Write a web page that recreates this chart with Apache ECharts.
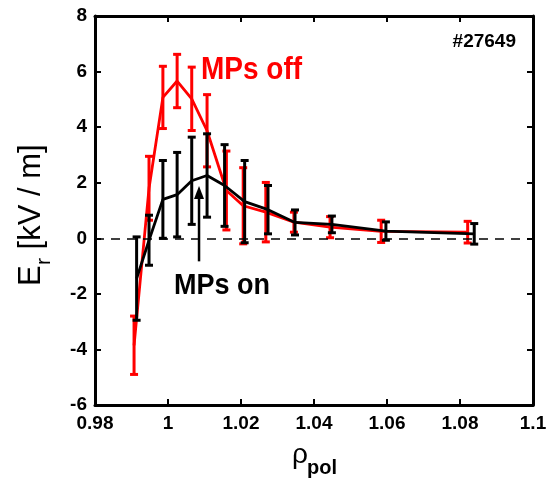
<!DOCTYPE html>
<html>
<head>
<meta charset="utf-8">
<script src="https://cdn.jsdelivr.net/npm/echarts@6/dist/echarts.min.js"></script>
<style>
  html, body { margin: 0; padding: 0; background: #fff; }
  #chart { width: 550px; height: 484px; }
</style>
</head>
<body>
<div id="chart"></div>
<script>
// MPs off (red)
var rhoOff = [0.9907, 0.9948, 0.9986, 1.0025, 1.0065, 1.0107, 1.0160, 1.0206, 1.0268, 1.0345, 1.0444, 1.0584, 1.0821];
var erOff  = [-3.85, 1.80, 5.07, 5.66, 5.02, 3.87, 1.72, 1.17, 0.94, 0.58, 0.40, 0.25, 0.22];
var errOff = [1.05, 1.15, 1.12, 0.96, 1.14, 1.30, 1.42, 1.37, 1.07, 0.36, 0.38, 0.40, 0.39];
// MPs on (black)
var rhoOn = [0.9914, 0.9948, 0.9986, 1.0025, 1.0065, 1.0107, 1.0155, 1.0210, 1.0274, 1.0348, 1.0449, 1.0597, 1.0839];
var erOn  = [-1.45, -0.07, 1.40, 1.57, 2.07, 2.26, 1.90, 1.32, 1.03, 0.57, 0.50, 0.26, 0.16];
var errOn = [1.50, 0.90, 1.40, 1.52, 1.57, 1.50, 1.47, 1.48, 0.87, 0.45, 0.30, 0.33, 0.37];
// arrow pointing at the MPs on curve
var arrowRho = [1.0085];
var arrowEr = [-0.83, 1.88];

var xTicks = [0.98, 1.1, 0.02];
var yTicks = [-6, 8, 2];

var FONT = '"Liberation Sans", Arial, sans-serif';

function zip(a, b, c) {
    var out = [];
    for (var i = 0; i < a.length; i++) out.push(c ? [a[i], b[i], c[i]] : [a[i], b[i]]);
    return out;
}

function errBars(color) {
    return function (params, api) {
        var x = api.value(0), y = api.value(1), e = api.value(2);
        var lo = api.coord([x, y - e]);
        var hi = api.coord([x, y + e]);
        var w = 4;
        var st = { stroke: color, lineWidth: 3 };
        return {
            type: 'group',
            children: [
                { type: 'line', shape: { x1: lo[0], y1: lo[1], x2: hi[0], y2: hi[1] }, style: st },
                { type: 'line', shape: { x1: lo[0] - w, y1: lo[1], x2: lo[0] + w, y2: lo[1] }, style: st },
                { type: 'line', shape: { x1: hi[0] - w, y1: hi[1], x2: hi[0] + w, y2: hi[1] }, style: st }
            ]
        };
    };
}

function axisX(pos, labels) {
    return {
        type: 'value', position: pos, min: xTicks[0], max: xTicks[1], interval: xTicks[2],
        axisLine: { show: true, onZero: false, lineStyle: { color: '#000', width: 3 } },
        axisTick: { show: true, inside: true, length: 6, lineStyle: { color: '#000', width: 2 } },
        axisLabel: { show: labels, color: '#000', fontFamily: FONT, fontWeight: 'bold', fontSize: 19, margin: 9 },
        splitLine: { show: false }
    };
}
function axisY(pos, labels) {
    return {
        type: 'value', position: pos, min: yTicks[0], max: yTicks[1], interval: yTicks[2],
        axisLine: { show: true, onZero: false, lineStyle: { color: '#000', width: 3 } },
        axisTick: { show: true, inside: true, length: 6, lineStyle: { color: '#000', width: 2 } },
        axisLabel: { show: labels, color: '#000', fontFamily: FONT, fontWeight: 'bold', fontSize: 19, margin: 8 },
        splitLine: { show: false }
    };
}

var chart = echarts.init(document.getElementById('chart'), null, { renderer: 'canvas' });

var option = {
    animation: false,
    backgroundColor: '#fff',
    grid: { left: 95, right: 17, top: 16, bottom: 79 },
    xAxis: [axisX('bottom', true), axisX('top', false)],
    yAxis: [axisY('left', true), axisY('right', false)],
    series: [
        {
            name: 'MPs off', type: 'line', data: zip(rhoOff, erOff), symbol: 'none', z: 2,
            lineStyle: { color: '#ff0000', width: 2.8 },
            markLine: {
                silent: true, symbol: 'none', label: { show: false },
                lineStyle: { color: '#000', width: 1.5, type: [9, 7] },
                data: [{ yAxis: 0 }]
            }
        },
        {
            name: 'MPs off err', type: 'custom', data: zip(rhoOff, erOff, errOff), z: 3,
            renderItem: errBars('#ff0000')
        },
        {
            name: 'MPs on', type: 'line', data: zip(rhoOn, erOn), symbol: 'none', z: 4,
            lineStyle: { color: '#000', width: 2.8 }
        },
        {
            name: 'MPs on err', type: 'custom', data: zip(rhoOn, erOn, errOn), z: 5,
            renderItem: errBars('#000')
        },
        {
            name: 'arrow', type: 'custom', z: 6,
            data: [[arrowRho[0], arrowEr[0], arrowEr[1]]],
            renderItem: function (params, api) {
                var b = api.coord([api.value(0), api.value(1)]);
                var t = api.coord([api.value(0), api.value(2)]);
                var hl = 13, hw = 5;
                return {
                    type: 'group',
                    children: [
                        { type: 'line', shape: { x1: b[0], y1: b[1], x2: t[0], y2: t[1] + hl - 2 }, style: { stroke: '#000', lineWidth: 2.5 } },
                        { type: 'polygon', shape: { points: [[t[0], t[1]], [t[0] - hw, t[1] + hl], [t[0] + hw, t[1] + hl]] }, style: { fill: '#000' } }
                    ]
                };
            }
        }
    ],
    graphic: [
        { type: 'text', x: 201, y: 86, scaleY: 1.1, style: { text: 'MPs off', fill: '#ff0000', font: 'bold 28px ' + FONT, align: 'left', verticalAlign: 'bottom' } },
        { type: 'text', x: 174, y: 301, scaleY: 1.1, style: { text: 'MPs on', fill: '#000', font: 'bold 27px ' + FONT, align: 'left', verticalAlign: 'bottom' } },
        { type: 'text', x: 516, y: 51, style: { text: '#27649', fill: '#000', font: 'bold 19px ' + FONT, align: 'right', verticalAlign: 'bottom' } },
        // y axis title
        { type: 'text', x: 47, y: 286, rotation: Math.PI / 2, style: { text: 'E', fill: '#000', font: '31px ' + FONT, align: 'left', verticalAlign: 'bottom' } },
        { type: 'text', x: 55, y: 265, rotation: Math.PI / 2, style: { text: 'r', fill: '#000', font: '21px ' + FONT, align: 'left', verticalAlign: 'bottom' } },
        { type: 'text', x: 47, y: 258, rotation: Math.PI / 2, style: { text: ' [kV / m]', fill: '#000', font: '31px ' + FONT, align: 'left', verticalAlign: 'bottom' } },
        // x axis title
        { type: 'text', x: 292, y: 469, style: { text: 'ρ', fill: '#000', font: '28px ' + FONT, align: 'left', verticalAlign: 'bottom' } },
        { type: 'text', x: 307, y: 478, style: { text: 'pol', fill: '#000', font: 'bold 20px ' + FONT, align: 'left', verticalAlign: 'bottom' } }
    ]
};

chart.setOption(option);
</script>
</body>
</html>
